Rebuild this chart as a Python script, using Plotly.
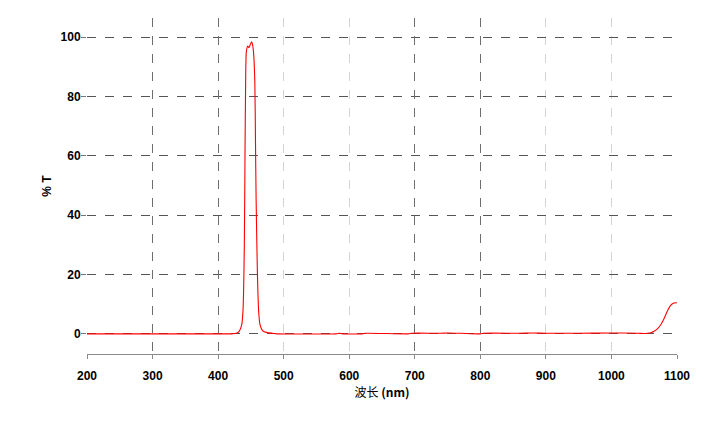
import plotly.graph_objects as go

wavelength = [200, 300, 400, 420, 428, 432, 436, 438, 440, 441, 442, 443, 445, 447, 449, 451, 452, 454, 456, 457, 458,
              460, 462, 464, 468, 475, 485, 490, 580, 585, 590, 620, 625, 690, 695, 740, 750, 770, 800, 805,
              860, 880, 900, 950, 1000, 1040, 1050, 1055, 1060, 1065, 1070, 1075, 1080, 1085, 1090, 1095, 1100]
transmission = [0, 0, 0, 0, 0.2, 0.8, 3, 8, 30, 60, 85, 95, 97, 96.5, 97.5, 98.5, 98, 95, 85, 65, 45,
                20, 7, 3, 1, 0.4, 0.1, 0, 0, 0.2, 0, 0, 0.2, 0, 0.2, 0.2, 0.3, 0.2, 0, 0.2,
                0.2, 0.3, 0.2, 0.2, 0.3, 0.2, 0.1, 0.2, 0.4, 0.9, 1.7, 3, 5, 7.5, 9.5, 10.4, 10.5]

x_ticks = [200, 300, 400, 500, 600, 700, 800, 900, 1000, 1100]
dark_grid = [300, 400, 700, 800]
y_ticks = [0, 20, 40, 60, 80, 100]

fig = go.Figure()
fig.add_trace(go.Scatter(x=wavelength, y=transmission, mode="lines",
                         line=dict(color="#ff0000", width=1.1, shape="spline", smoothing=0.6),
                         showlegend=False, hoverinfo="skip"))
fig.add_trace(go.Scatter(x=[200, 1100], y=[0, 0], xaxis="x2", mode="lines",
                         line=dict(width=0), showlegend=False, hoverinfo="skip"))

font_b = dict(family="Liberation Sans, Arial", size=12, color="#000000")
fig.update_layout(
    width=711, height=421,
    margin=dict(l=79, r=42, t=10, b=75),
    paper_bgcolor="white", plot_bgcolor="white",
    xaxis=dict(range=[200, 1100], tickvals=x_ticks, ticktext=[f"<b>{v}</b>" for v in x_ticks],
               showgrid=True, gridcolor="#d4d4d4", griddash="dash", gridwidth=1,
               showline=True, linecolor="#8a8a8a", linewidth=1,
               ticks="outside", ticklen=4, tickcolor="#8a8a8a", ticklabelstandoff=7,
               tickfont=font_b, zeroline=False,
               title=dict(text="波长 <b>(nm)</b>", font=dict(family="Noto Sans CJK SC, Liberation Sans", size=12, color="#000"),
                          standoff=4)),
    xaxis2=dict(range=[200, 1100], overlaying="x", tickvals=dark_grid, showgrid=True,
                gridcolor="#6e6e6e", griddash="dash", gridwidth=1, showticklabels=False,
                ticks="", zeroline=False, showline=False),
    yaxis=dict(range=[-6.8, 106.5], tickvals=y_ticks, ticktext=[f"<b>{v}</b>" for v in y_ticks],
               showgrid=True, gridcolor="#555555", griddash="dash", gridwidth=1,
               ticks="outside", ticklen=5, tickcolor="#777777", ticklabelstandoff=-2,
               tickfont=font_b, zeroline=False, showline=False,
               title=dict(text="<b>% T</b>", font=font_b, standoff=6)),
)
fig.write_html("out.html")
